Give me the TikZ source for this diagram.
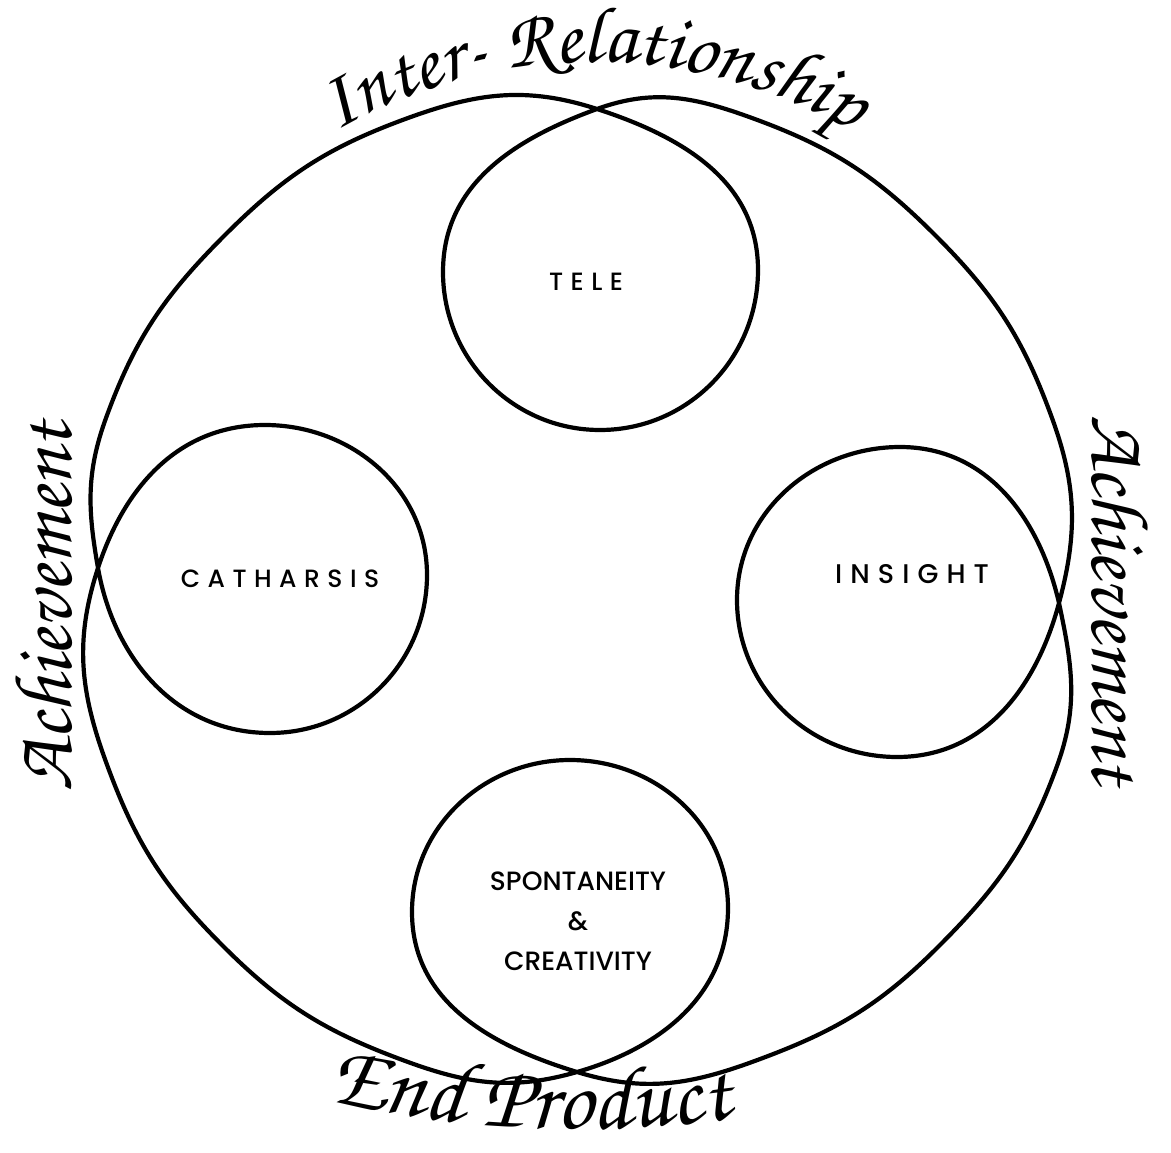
\documentclass[tikz,border=0pt]{standalone}
\usepackage{fontspec}
\usetikzlibrary{decorations.text}
\newfontfamily\labelfont[UprightFont={* Medium}]{Poppins}
\newfontfamily\spacedfont[UprightFont={* Medium},LetterSpace=30]{Poppins}
\newfontfamily\handfont{texgyrechorus-mediumitalic.otf}
\begin{document}
\begin{tikzpicture}[x=1pt,y=1pt,
  loopline/.style={line width=4.2pt, line cap=round, line join=round},
  caps/.style={inner sep=0pt, font=\spacedfont\fontsize{25}{30}\selectfont},
  plainlabel/.style={inner sep=0pt, align=center, font=\labelfont\fontsize{26.5}{40}\selectfont},
  hand/.style={inner sep=0pt, font=\handfont\fontsize{82}{84}\selectfont}]
\useasboundingbox (0,0) rectangle (1171,-1153);
\fill[white] (0,0) rectangle (1171,-1153);
% crossing points
\coordinate (L) at (98,-568);
\coordinate (T) at (597,-109);
\coordinate (R) at (1059,-603);
\coordinate (B) at (577,-1072);
% outer circle points (centre 580,-590; radius about 502)
\coordinate (p160) at (106,-418);
\coordinate (p135) at (225,-235);
\coordinate (p110) at (408,-118);
\coordinate (p70) at (752,-118);
\coordinate (p45) at (935,-235);
\coordinate (p20) at (1052,-418);
\coordinate (m20) at (1057,-766);
\coordinate (m45) at (938,-947);
\coordinate (m70) at (752,-1062);
\coordinate (p250) at (408,-1062);
\coordinate (p225) at (223,-946);
\coordinate (p200) at (106,-762);
% loop points
\coordinate (Tr) at (758,-270);
\coordinate (Tb) at (600,-430);
\coordinate (Tl) at (443,-272);
\coordinate (Lt) at (265,-425);
\coordinate (Lr) at (427,-575);
\coordinate (Lb) at (270,-733);
\coordinate (Rb) at (897,-757);
\coordinate (Rl) at (737,-600);
\coordinate (Rt) at (900,-447);
\coordinate (Bl) at (412,-912);
\coordinate (Bt) at (570,-760);
\coordinate (Br) at (728,-908);

\draw[loopline] (L)
  to[out=100,in=250] (p160)
  to[out=70,in=225] (p135)
  to[out=45,in=200] (p110)
  to[out=20,in=162] (T)
  to[out=-18,in=90] (Tr)
  to[out=-90,in=0] (Tb)
  to[out=180,in=-90] (Tl)
  to[out=90,in=200] (T)
  to[out=20,in=160] (p70)
  to[out=-20,in=135] (p45)
  to[out=-45,in=110] (p20)
  to[out=-70,in=75] (R)
  to[out=255,in=0] (Rb)
  to[out=180,in=-90] (Rl)
  to[out=90,in=180] (Rt)
  to[out=0,in=103] (R)
  to[out=-78,in=70] (m20)
  to[out=250,in=45] (m45)
  to[out=225,in=20] (m70)
  to[out=200,in=-17] (B)
  to[out=163,in=-90] (Bl)
  to[out=90,in=180] (Bt)
  to[out=0,in=90] (Br)
  to[out=-90,in=16] (B)
  to[out=196,in=-20] (p250)
  to[out=160,in=-45] (p225)
  to[out=135,in=-70] (p200)
  to[out=110,in=252] (L)
  to[out=72,in=180] (Lt)
  to[out=0,in=90] (Lr)
  to[out=-90,in=0] (Lb)
  to[out=180,in=-80] (L);

\node[caps] (tele) at (586,-282) {TELE};
\node[caps] (catharsis) at (280,-579) {CATHARSIS};
\node[caps, font=\spacedfont\fontsize{27}{30}\selectfont] (insight) at (912,-574) {INSIGHT};
\node[plainlabel] (spont) at (578,-921) {SPONTANEITY\\\&\\CREATIVITY};

\path[decorate, decoration={text along path, text align=center,
  text={|\handfont\fontsize{80}{84}\selectfont|Inter- Relationship}}]
  (594,-574) ++(129:512) arc[start angle=129, end angle=51, radius=512];
\path[decorate, decoration={text along path, text align=center,
  text={|\handfont\fontsize{90}{94}\selectfont|End Product}}]
  (578,0) ++(254:1129) arc[start angle=254, end angle=281, radius=1129];
\node[hand, rotate=90] (achl) at (44,-607) {Achievement};
\node[hand, rotate=-90] (achr) at (1120,-600) {Achievement};
\end{tikzpicture}
\end{document}
